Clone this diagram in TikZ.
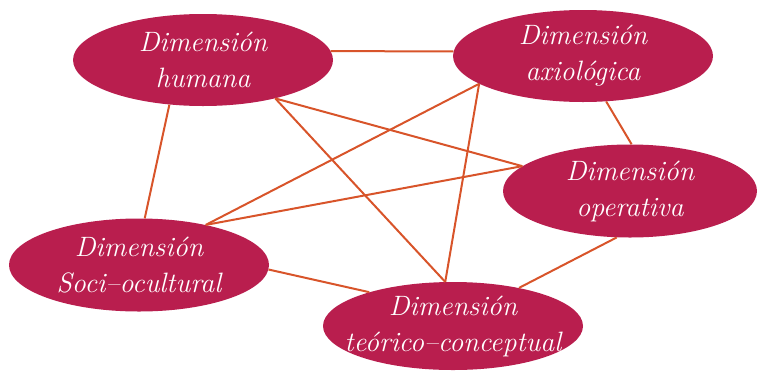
\documentclass[tikz,border=0pt]{standalone}
\usepackage{xcolor}
\usepackage{tikz}
\usetikzlibrary{shapes.geometric}

\definecolor{dimfill}{RGB}{185,30,78}
\definecolor{dimline}{RGB}{216,84,42}

\tikzset{
	dimension/.style={ellipse, fill=dimfill, text=white, inner sep=0pt,
		minimum width=260pt, minimum height=92pt, align=center,
		font=\fontsize{28}{36}\selectfont\itshape},
	link/.style={draw=dimline, line width=2pt}
}

\begin{document}
\begin{tikzpicture}[x=1pt, y=1pt]
				\useasboundingbox (0, 0) rectangle (759, -370);
				% Nodes:
				\node[dimension](D1) at (203, -60){Dimensión\\humana};
				\node[dimension](D2) at (583, -56){Dimensión\\axiológica};
				\node[dimension, minimum width=254pt, minimum height=93pt](D3) at (630, -191){Dimensión\\operativa};
				\node[dimension, minimum height=93pt](D4) at (139, -265){Dimensión\\Soci--ocultural};
				\node[dimension, minimum height=88pt, inner xsep=-17pt](D5) at (453, -326){Dimensión\\teórico--conceptual};
				% Links:
				\draw[link] (D1.4) -- (D2.178);
				\draw[link] (D1.233) -- (D4.83);
				\draw[link] (D1.332) -- (D3.167);
				\draw[link] (D1.332) -- (D5.100);
				\draw[link] (D2.195) -- (D4.31);
				\draw[link] (D2.195) -- (D5.100);
				\draw[link] (D2.297) -- (D3.88);
				\draw[link] (D4.31) -- (D3.167);
				\draw[link] (D4.358) -- (D5.158);
				\draw[link] (D3.254) -- (D5.30);
			\end{tikzpicture}
\end{document}
